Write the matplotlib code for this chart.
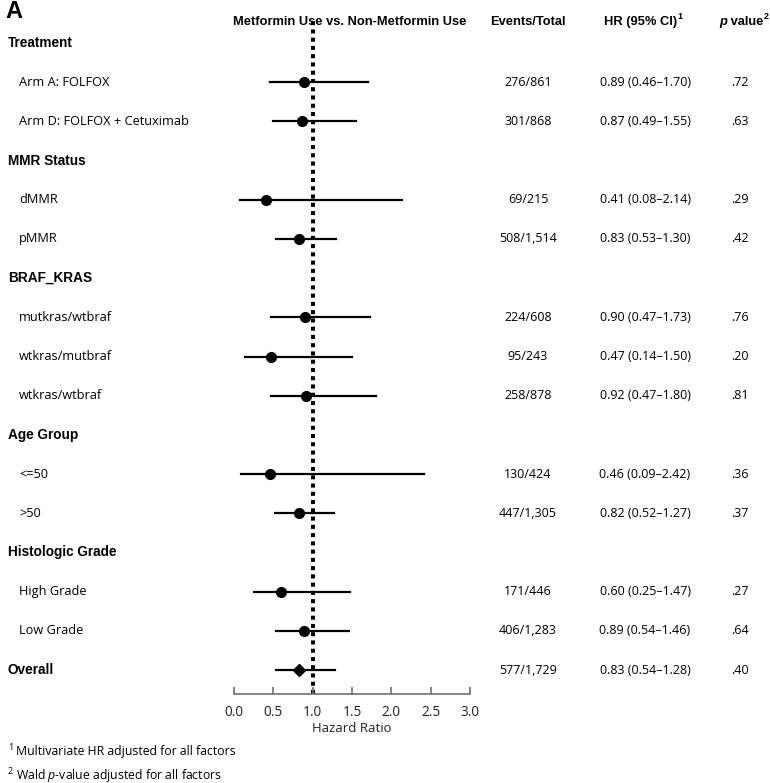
import matplotlib; matplotlib.use('Agg')
import matplotlib.pyplot as plt
import matplotlib.transforms as mtransforms

# rows of the forest plot (None = group heading)
labels = ["Treatment", "Arm A: FOLFOX", "Arm D: FOLFOX + Cetuximab",
          "MMR Status", "dMMR", "pMMR",
          "BRAF_KRAS", "mutkras/wtbraf", "wtkras/mutbraf", "wtkras/wtbraf",
          "Age Group", "<=50", ">50",
          "Histologic Grade", "High Grade", "Low Grade",
          "Overall"]
hr = [None, 0.89, 0.87, None, 0.41, 0.83, None, 0.90, 0.47, 0.92,
      None, 0.46, 0.82, None, 0.60, 0.89, 0.83]
ci_lo = [None, 0.46, 0.49, None, 0.08, 0.53, None, 0.47, 0.14, 0.47,
         None, 0.09, 0.52, None, 0.25, 0.54, 0.54]
ci_hi = [None, 1.70, 1.55, None, 2.14, 1.30, None, 1.73, 1.50, 1.80,
         None, 2.42, 1.27, None, 1.47, 1.46, 1.28]
events = [None, "276/861", "301/868", None, "69/215", "508/1,514",
          None, "224/608", "95/243", "258/878", None, "130/424", "447/1,305",
          None, "171/446", "406/1,283", "577/1,729"]
pvals = [None, ".72", ".63", None, ".29", ".42", None, ".76", ".20", ".81",
         None, ".36", ".37", None, ".27", ".64", ".40"]
xticks = [0.0, 0.5, 1.0, 1.5, 2.0, 2.5, 3.0]

REG = 'Open Sans'
BOLD = 'Liberation Sans'
plt.rcParams['font.family'] = [REG, 'DejaVu Sans']
plt.rcParams['mathtext.fontset'] = 'custom'
plt.rcParams['mathtext.rm'] = REG
plt.rcParams['mathtext.it'] = REG + ':italic'

W, H = 770, 783
fig = plt.figure(figsize=(W/100, H/100), dpi=100)
row0, step = 43, 39.19
n = len(labels)
ax_top, ax_bot = 20, 694
ax = fig.add_axes([234/W, 1-ax_bot/H, (470-234)/W, (ax_bot-ax_top)/H])
ax.set_xlim(0, 3)
ax.set_ylim((ax_bot-row0)/step, (ax_top-row0)/step)

ax.axvline(1.0, color='black', lw=2.9, ls=(0, (1, 1.05)), zorder=1)
for i in range(n):
    if hr[i] is None: continue
    ax.plot([ci_lo[i], ci_hi[i]], [i, i], color='black', lw=1.6, zorder=2)
    mk = 'D' if labels[i] == "Overall" else 'o'
    ax.plot(hr[i], i, marker=mk, ms=7 if mk == 'o' else 6, color='black', zorder=3)

for s in ['top', 'left', 'right']: ax.spines[s].set_visible(False)
ax.spines['bottom'].set_color('#707070')
ax.spines['bottom'].set_linewidth(1.2)
ax.set_yticks([])
ax.set_xticks(xticks)
ax.set_xticklabels([f"{t:.1f}" for t in xticks], fontsize=9.8, color='#222222')
ax.tick_params(axis='x', direction='in', length=5, width=1.2, color='#707070', pad=8)
ax.set_xlabel("Hazard Ratio", fontsize=9.5, labelpad=1, color='#222222')

# left labels + table columns, y in data rows
tr = mtransforms.blended_transform_factory(fig.transFigure, ax.transData)
for i in range(n):
    header = hr[i] is None or labels[i] == "Overall"
    if header:
        fig.text(8/W, i, labels[i], transform=tr, fontsize=9.8, fontweight='bold',
                 family=BOLD, va='center', ha='left')
    else:
        fig.text(19/W, i, labels[i], transform=tr, fontsize=9.2, va='center', ha='left')
    if hr[i] is None: continue
    fig.text(528/W, i, events[i], transform=tr, fontsize=9, va='center', ha='center')
    fig.text(645/W, i, f"{hr[i]:.2f} ({ci_lo[i]:.2f}\u2013{ci_hi[i]:.2f})", transform=tr,
             fontsize=9, va='center', ha='center')
    fig.text(740/W, i, pvals[i], transform=tr, fontsize=9, va='center', ha='center')

# column headers
hy = 1-22/H
hdr = dict(fontsize=9.3, fontweight='bold', family=BOLD, va='center')
fig.text(5/W, 1-12/H, "A", fontsize=17, fontweight='heavy', family=BOLD, va='center')
fig.text(350/W, hy, "Metformin Use vs. Non-Metformin Use", ha='center', **hdr)
fig.text(528/W, hy, "Events/Total", ha='center', **hdr)
t_hr = fig.text(604/W, hy, "HR (95% CI)", ha='left', **hdr)
ax.annotate("1", xy=(1, 0.55), xycoords=t_hr, xytext=(0.4, 0), textcoords='offset points',
            fontsize=6.5, fontweight='bold', family=BOLD, ha='left', va='bottom')
t_p = fig.text(719/W, hy, "p", style='italic', ha='left', **hdr)
t_v = ax.annotate(" value", xy=(1, 0.5), xycoords=t_p, xytext=(0, 0),
                  textcoords='offset points', ha='left', **hdr)
ax.annotate("2", xy=(1, 0.55), xycoords=t_v, xytext=(0.4, 0), textcoords='offset points',
            fontsize=6.5, fontweight='bold', family=BOLD, ha='left', va='bottom')

# footnotes
for y, mark, body in [(752, "1", "Multivariate HR adjusted for all factors"),
                      (775, "2", "Wald $\\mathit{p}$-value adjusted for all factors")]:
    fig.text(8/W, 1-(y-4)/H, mark, fontsize=6.5, va='center')
    fig.text(16/W, 1-y/H, body, fontsize=8.8, va='center')

fig.savefig("out.png", dpi=100)
